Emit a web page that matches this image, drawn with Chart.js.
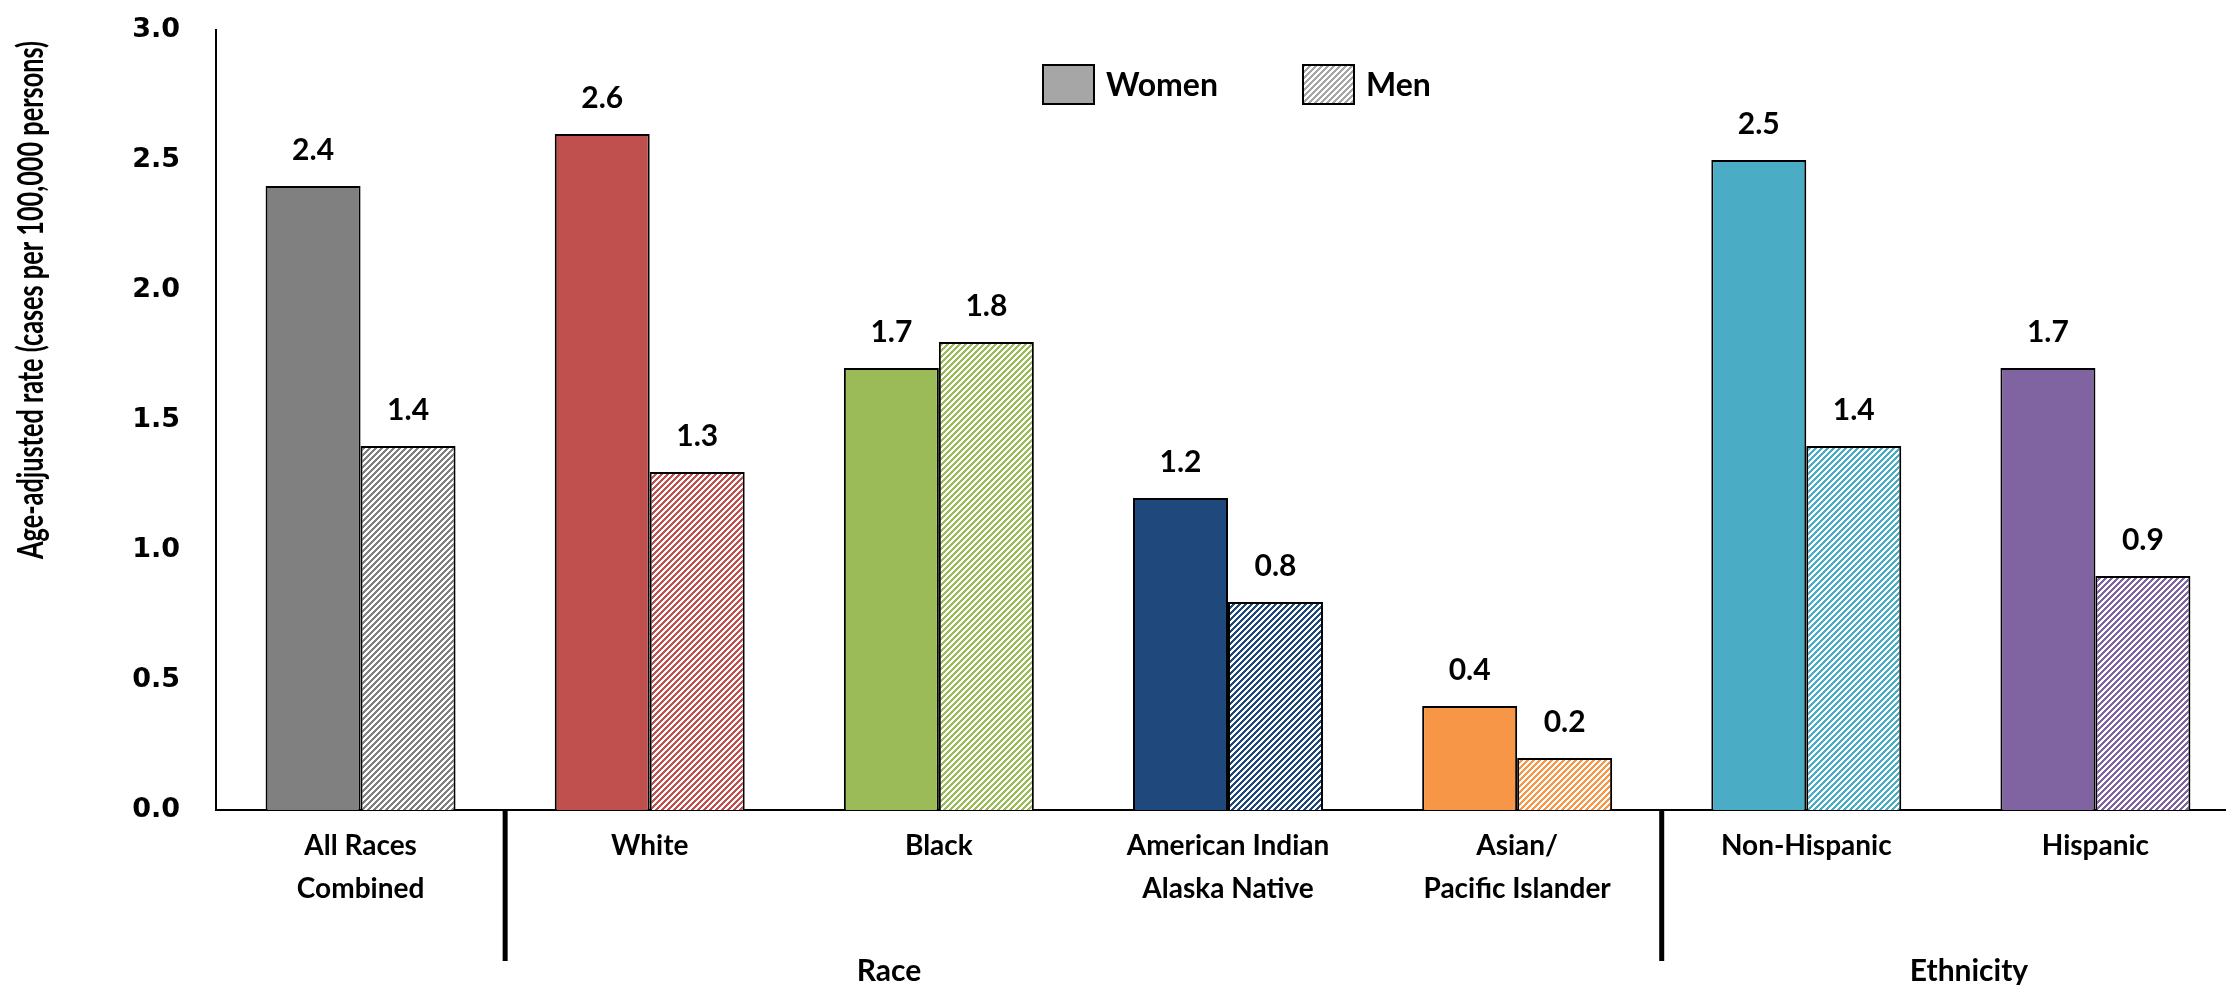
<!DOCTYPE html>
<html>
<head>
<meta charset="utf-8">
<script src="https://cdn.jsdelivr.net/npm/chart.js@4/dist/chart.umd.min.js"></script>
<style>
  html, body { margin: 0; padding: 0; overflow: hidden; background: #fff; }
  #wrap { position: relative; width: 2240px; height: 985px; }
</style>
</head>
<body>
<div id="wrap"><canvas id="c"></canvas></div>
<script>
// Categories and values (age-adjusted rate per 100,000 persons)
const categories = [
  ['All Races', 'Combined'],
  'White',
  'Black',
  ['American Indian', 'Alaska Native'],
  ['Asian/', 'Pacific Islander'],
  'Non-Hispanic',
  'Hispanic'
];
const womenRates = [2.4, 2.6, 1.7, 1.2, 0.4, 2.5, 1.7];
const menRates   = [1.4, 1.3, 1.8, 0.8, 0.2, 1.4, 0.9];
const seriesNames = ['Women', 'Men'];
const groupNames = ['Race', 'Ethnicity'];
const yTicks = [0, 0.5, 1.0, 1.5, 2.0, 2.5, 3.0];
const yTitle = 'Age-adjusted rate (cases per 100,000 persons)';

const barColors = ['#808080', '#C0504D', '#9BBB59', '#1F497D', '#F79646', '#4BACC6', '#8064A2'];

// Diagonal hatch tile used for the "Men" bars
function hatch(color) {
  const n = 6;
  const tile = document.createElement('canvas');
  tile.width = n; tile.height = n;
  const g = tile.getContext('2d');
  g.fillStyle = '#ffffff';
  g.fillRect(0, 0, n, n);
  g.fillStyle = color;
  for (let y = 0; y < n; y++) {
    for (let x = 0; x < n; x++) {
      if ((x + y) % n < 3) g.fillRect(x, y, 1, 1);
    }
  }
  return g.createPattern(tile, 'repeat');
}

const LABEL_FONT = 'Lato, "Open Sans", sans-serif';

// Value labels above every bar
const valueLabels = {
  id: 'valueLabels',
  afterDatasetsDraw(chart) {
    const ctx = chart.ctx;
    ctx.save();
    ctx.font = 'bold 30px ' + LABEL_FONT;
    ctx.fillStyle = '#000';
    ctx.textAlign = 'center';
    ctx.textBaseline = 'middle';
    chart.data.datasets.forEach((ds, i) => {
      chart.getDatasetMeta(i).data.forEach((bar, j) => {
        ctx.fillText(ds.data[j].toFixed(1), bar.x, bar.y - 36);
      });
    });
    ctx.restore();
  }
};

// Legend, y title, group dividers and group names
const decorations = {
  id: 'decorations',
  afterDraw(chart) {
    const ctx = chart.ctx;
    const xs = chart.scales.x;
    const area = chart.chartArea;
    ctx.save();

    // legend
    const legendItems = [
      { x: 1043, fill: '#A6A6A6' },
      { x: 1303, fill: hatch('#A6A6A6') }
    ];
    ctx.font = 'bold 32px ' + LABEL_FONT;
    ctx.textBaseline = 'middle';
    ctx.textAlign = 'left';
    legendItems.forEach((it, i) => {
      ctx.fillStyle = it.fill;
      ctx.fillRect(it.x, 65, 51, 39);
      ctx.lineWidth = 2;
      ctx.strokeStyle = '#000';
      ctx.strokeRect(it.x, 65, 51, 39);
      ctx.fillStyle = '#000';
      ctx.fillText(seriesNames[i], it.x + 63, 86);
    });

    // y axis title, set in a condensed face
    ctx.save();
    ctx.translate(31, 300);
    ctx.rotate(-Math.PI / 2);
    ctx.font = 'bold 36px ' + LABEL_FONT;
    const w = ctx.measureText(yTitle).width;
    ctx.scale(518 / w, 1);
    ctx.textAlign = 'center';
    ctx.textBaseline = 'middle';
    ctx.fillStyle = '#000';
    ctx.fillText(yTitle, 0, 0);
    ctx.restore();

    // group dividers below the axis
    ctx.fillStyle = '#000';
    [0, 4].forEach(i => {
      const x = (xs.getPixelForTick(i) + xs.getPixelForTick(i + 1)) / 2;
      ctx.fillRect(x - 2.5, area.bottom, 5, 151);
    });

    // group names
    ctx.font = 'bold 30px ' + LABEL_FONT;
    ctx.textAlign = 'center';
    ctx.textBaseline = 'middle';
    ctx.fillText(groupNames[0], 889, 971);
    ctx.fillText(groupNames[1], 1969, 971);

    ctx.restore();
  }
};

new Chart(document.getElementById('c'), {
  type: 'bar',
  data: {
    labels: categories,
    datasets: [
      {
        label: seriesNames[0],
        data: womenRates,
        backgroundColor: barColors,
        borderColor: '#000',
        borderWidth: 2,
        borderSkipped: 'bottom'
      },
      {
        label: seriesNames[1],
        data: menRates,
        backgroundColor: barColors.map(hatch),
        borderColor: '#000',
        borderWidth: 2,
        borderSkipped: 'bottom'
      }
    ]
  },
  options: {
    responsive: true,
    maintainAspectRatio: false,
    animation: false,
    devicePixelRatio: 1,
    layout: { padding: { top: 30, left: 0, right: 0, bottom: 0 } },
    datasets: { bar: { categoryPercentage: 0.657, barPercentage: 1.0 } },
    plugins: { legend: { display: false }, tooltip: { enabled: false } },
    scales: {
      x: {
        grid: { display: false, drawTicks: false },
        border: { display: true, color: '#000', width: 2 },
        ticks: {
          color: '#000',
          padding: 14,
          maxRotation: 0,
          autoSkip: false,
          font: { family: LABEL_FONT, size: 28, weight: 'bold', lineHeight: 1.54 }
        },
        afterFit(scale) {
          scale.height = 175;
          scale.paddingLeft = 0;
          scale.paddingRight = 0;
        }
      },
      y: {
        min: 0,
        max: 3,
        grid: { display: false, drawTicks: false },
        border: { display: true, color: '#000', width: 2 },
        afterBuildTicks(scale) { scale.ticks = yTicks.map(v => ({ value: v })); },
        ticks: {
          color: '#000',
          padding: 36,
          font: { family: '"DejaVu Sans", Verdana, sans-serif', size: 27, weight: 'bold' },
          callback: v => Number(v).toFixed(1)
        },
        afterFit(scale) {
          scale.width = 216;
          scale.paddingTop = 0;
          scale.paddingBottom = 0;
        }
      }
    }
  },
  plugins: [valueLabels, decorations]
});
</script>
</body>
</html>
